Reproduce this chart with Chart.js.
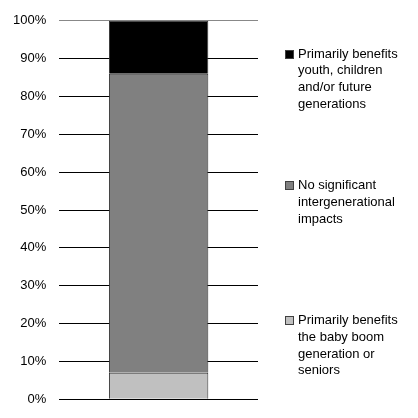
<!DOCTYPE html>
<html>
<head>
<meta charset="utf-8">
<script src="https://cdn.jsdelivr.net/npm/chart.js@4"></script>
<style>
  html, body { margin: 0; padding: 0; background: #fff; overflow: hidden; }
  #wrap { position: relative; width: 418px; height: 418px; overflow: hidden; }
  #chart { position: absolute; left: 0; top: 0; }
  .item { position: absolute; left: 285px; width: 130px; font: 13px "Liberation Sans", Arial, sans-serif; color: #000; line-height: 16.7px; }
  .item .box { position: absolute; left: 0; top: 4px; width: 7px; height: 7px; border: 1px solid #404040; }
  .item .txt { margin-left: 13px; display: block; }
</style>
</head>
<body>
<div id="wrap">
  <canvas id="chart" width="418" height="420"></canvas>
</div>
<script>
// dados (percentuais)
const categories = [''];
const seriesLabels = [
    'Primarily benefits the baby boom generation or seniors',
    'No significant intergenerational impacts',
    'Primarily benefits youth, children and/or future generations'
];
const seniorsValues = [7];
const neutralValues = [79];
const youthValues = [14];
const yTicks = [0, 10, 20, 30, 40, 50, 60, 70, 80, 90, 100];

const colors = ['#c0c0c0', '#808080', '#000000'];

// legenda em HTML (ordem invertida, como no original)
const legendTops = [45.6, 177.3, 312.3];
const wrap = document.getElementById('wrap');
[2, 1, 0].forEach(function(i, k) {
    var div = document.createElement('div');
    div.className = 'item';
    div.style.top = legendTops[k] + 'px';
    div.innerHTML = '<span class="box" style="background:' + colors[i] + '"></span><span class="txt">' + seriesLabels[i] + '</span>';
    wrap.appendChild(div);
});

const ctx = document.getElementById('chart').getContext('2d');
new Chart(ctx, {
    type: 'bar',
    data: {
        labels: categories,
        datasets: [
            { label: seriesLabels[0], data: seniorsValues, backgroundColor: colors[0] },
            { label: seriesLabels[1], data: neutralValues, backgroundColor: colors[1] },
            { label: seriesLabels[2], data: youthValues, backgroundColor: colors[2] }
        ].map(function(d) {
            d.borderColor = '#333';
            d.borderWidth = 1;
            d.barPercentage = 0.5;
            d.categoryPercentage = 1;
            return d;
        })
    },
    options: {
        responsive: false,
        animation: false,
        layout: { padding: { top: 20, bottom: 8, left: 0, right: 160 } },
        plugins: { legend: { display: false }, tooltip: { enabled: false } },
        scales: {
            x: {
                stacked: true,
                ticks: { display: false },
                grid: { display: false },
                border: { display: false }
            },
            y: {
                stacked: true,
                min: 0,
                max: 100,
                afterBuildTicks: function(axis) {
                    axis.ticks = yTicks.map(v => ({ value: v }));
                },
                ticks: {
                    padding: 13,
                    color: '#000',
                    font: { family: '"Liberation Sans", Arial, sans-serif', size: 13 },
                    callback: v => v + '%'
                },
                grid: {
                    drawTicks: false,
                    color: function(c) { return c.tick && c.tick.value === 100 ? '#888' : '#000'; },
                    lineWidth: 1
                },
                border: { display: false }
            }
        }
    }
});
</script>
</body>
</html>
